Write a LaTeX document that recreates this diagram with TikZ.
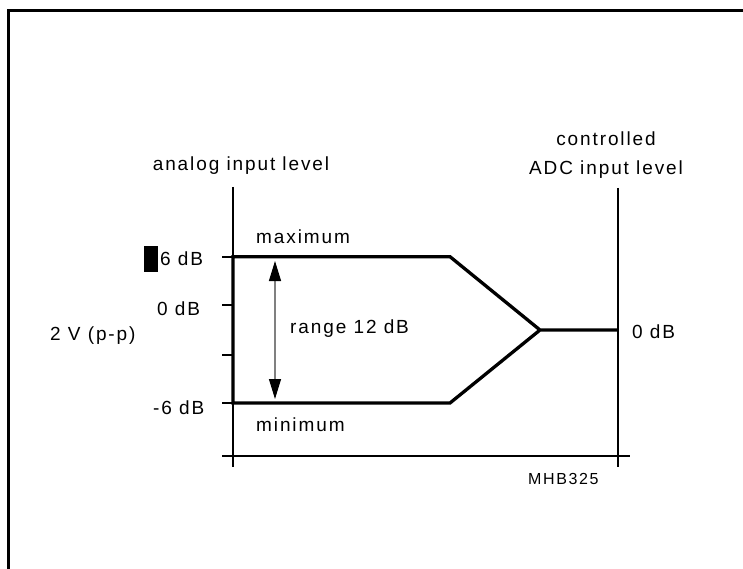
\documentclass[tikz,border=0pt]{standalone}
\usepackage{fontspec}
\setmainfont{Liberation Sans}[LetterSpace=10]
\usetikzlibrary{arrows.meta}

\tikzset{
  lbl/.style={font=\fontsize{19}{23}\selectfont, inner sep=0pt},
  axisline/.style={line width=2pt},
  trace/.style={line width=3.3pt, line join=miter},
  rangearrow/.style={gray, line width=1.2pt,
    {Triangle[length=20pt,width=12pt,color=black]}-{Triangle[length=20pt,width=12pt,color=black]}},
}

\begin{document}
\begin{tikzpicture}[x=1pt,y=-1pt]
  \useasboundingbox (0,0) rectangle (743,569);
  % frame
  \draw[line width=3pt] (8.5,569) -- (8.5,11) -- (743,11);

  % axes
  \coordinate (in top) at (233,187);
  \coordinate (in bot) at (233,467);
  \coordinate (out top) at (617.6,188);
  \coordinate (out bot) at (617.6,467);
  \coordinate (base left) at (222,456);
  \coordinate (base right) at (630,456);
  \draw[axisline] (in top) -- (in bot);
  \draw[axisline] (out top) -- (out bot);
  \draw[axisline] (base left) -- (base right);
  \foreach \y/\tick in {256.7/pmax,305/pzero,355/pmid,403/pmin} {
    \coordinate (\tick) at (233,\y);
    \draw[axisline] (\tick) -- ++(-11,0);
  }

  % level trace
  \coordinate (max knee) at (450,256.7);
  \coordinate (min knee) at (450,403);
  \coordinate (join) at (540,330);
  \coordinate (adc) at (617.6,330);
  \draw[trace] (join) -- (max knee) -- (pmax) -- (pmin) -- (min knee) -- (join) -- (adc);

  % range
  \coordinate (rng top) at (275,261);
  \coordinate (rng bot) at (275,399);
  \draw[rangearrow] (rng top) -- (rng bot);

  % labels
  \node[lbl] (in title) at (241,166) {analog input level};
  \node[lbl, align=center, font=\fontsize{19}{29}\selectfont] (out title) at (606,155) {controlled\\ADC input level};
  \node[fill=black, inner sep=0pt, minimum width=14pt, minimum height=26pt] (mark) at (151,259) {};
  \node[lbl, anchor=west] (db max) at (160,259) {6 dB};
  \node[lbl, anchor=west] (db zero) at (157,309) {0 dB};
  \node[lbl, anchor=west] (db min) at (153,408) {-6 dB};
  \node[lbl, anchor=west] (vpp) at (50,336) {2 V (p-p)};
  \node[lbl, anchor=west] (max lbl) at (256,237) {maximum};
  \node[lbl, anchor=west] (min lbl) at (256,425) {minimum};
  \node[lbl, anchor=west] (rng lbl) at (290,329) {range 12 dB};
  \node[lbl, anchor=west] (db out) at (632,332) {0 dB};
  \node[lbl, anchor=west, font=\fontsize{16}{19}\selectfont] (code) at (528,479) {MHB325};
\end{tikzpicture}
\end{document}
